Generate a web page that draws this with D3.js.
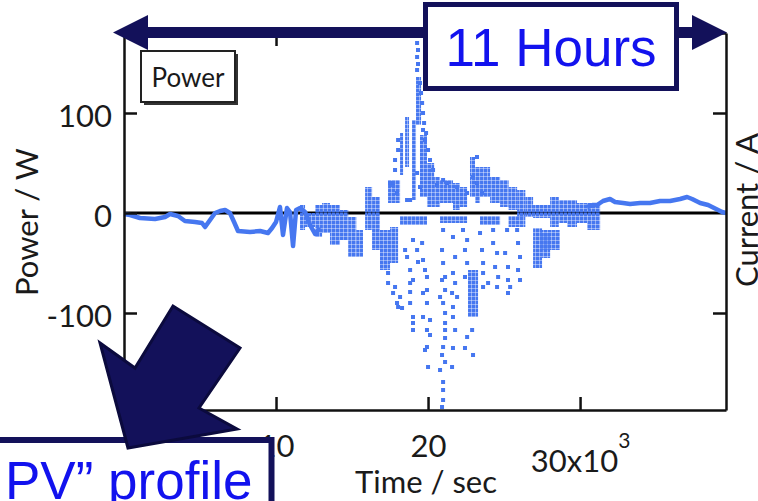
<!DOCTYPE html>
<html lang="en">

<head>
    <meta charset="UTF-8">
    <title>Power profile</title>

    <style>
        body {
            margin: 0;
            background: #fff;
        }

        .axis text {
            font: 31px Lato, sans-serif;
            fill: #1a1a1a;
        }

        .axis path,
        .axis line {
            fill: none;
            stroke: #111;
            stroke-width: 2.5;
        }

        .label {
            font: 31px Lato, sans-serif;
            fill: #1a1a1a;
        }

        .note {
            font: 53px "Liberation Sans", Arial, sans-serif;
            fill: #1212ee;
        }
    </style>
</head>

<body>
    <div id="graph"></div>

    <script src="https://cdnjs.cloudflare.com/ajax/libs/d3/7.8.5/d3.min.js"></script>

    <script>
        // tick values / labels
        var xTicks = [10000, 20000, 30000];
        var xTickLabels = ["10", "20", "30x10"];
        var xExponent = "3";
        var yTicks = [100, 0, -100];
        var yRightTicks = [100, -100];

        // quiet stretches, [time s, power W]
        var traceMorning = [
            [0, -1], [400, -2], [1050, -5], [2040, -6], [2700, -4], [3030, -1], [3550, -3],
            [4010, -8], [4670, -9], [5130, -10], [5330, -14], [5660, -7], [5990, 0], [6320, 2],
            [6650, 3], [6970, 0], [7240, -9], [7500, -18], [8290, -19], [8950, -18], [9470, -20],
            [9740, -15], [10000, -9], [10260, 6], [10460, -22], [10720, 5], [10920, 1], [11120, -33],
            [11320, 3], [11580, 5], [11910, 1], [12240, -12], [12570, -21], [12900, -15]
        ];
        var traceEvening = [
            [30460, 6], [30860, 8], [31120, 8], [31510, 12], [31970, 14], [32300, 11], [32830, 10],
            [33290, 9], [33950, 10], [34600, 10], [35260, 12], [35920, 12], [36580, 14], [37040, 16],
            [37370, 14], [37900, 10], [38420, 8], [38950, 4], [39340, 1], [39600, 0]
        ];

        // dense clouds of samples, [t start, t end, P high, P low]
        var clouds = [
            [11580, 11910, 8, -17], [11910, 12570, 0, -14], [12570, 13030, 8, -24],
            [13030, 13550, 10, -20], [13550, 14210, 8, -32], [14210, 14750, 3, -27],
            [14750, 15280, -4, -44], [15280, 15720, -17, -44], [15860, 16320, 26, -17],
            [16320, 16840, 16, -37], [16840, 17500, -17, -57], [17500, 18030, -14, -50],
            [17370, 18160, 33, 10], [18160, 18360, 80, 38], [18490, 18750, 96, 46],
            [18950, 19210, 93, 13], [19210, 19540, 136, 88], [19470, 19930, 78, 16],
            [19930, 20400, 50, 6], [20400, 20790, 36, 6], [20790, 21640, 33, 10],
            [21640, 22100, 30, 3], [22100, 22570, 26, 6], [22760, 23090, 56, 16],
            [23090, 23420, 46, 10], [23420, 24080, 46, 16], [24080, 24740, 36, 10],
            [24740, 25300, 33, 6], [25300, 25860, 26, 3], [25860, 26400, 23, -4],
            [26400, 26910, 16, -4], [26910, 27500, -15, -55], [27500, 28030, -20, -45],
            [26910, 28030, 8, -5], [28030, 28600, 16, -14], [28600, 29150, 13, -10],
            [29150, 29800, 13, -14], [29800, 30460, 10, -10], [30460, 31320, 10, -17],
            [22630, 23290, -57, -104], [27370, 28680, -17, -37],
            [18160, 19930, -3, -12], [20790, 22570, -3, -10], [23420, 24740, -3, -12],
            [25300, 26400, -3, -14]
        ];

        // scattered single samples, [time s, power W]
        var samples = [
            [19280, 170], [19340, 163], [19280, 156], [19340, 149], [19280, 143],
            [19470, 130], [19540, 120], [19610, 110], [19670, 100], [19740, 90], [19870, 80],
            [19670, 83], [19800, 73], [20000, 63], [20130, 53], [20330, 43], [20590, 28],
            [17830, 53], [17830, 43], [17700, 28], [17500, 30], [17960, 20],
            [18620, 13], [18820, 13], [19280, 40], [19470, 26],
            [21250, 30], [21910, 26], [22570, 20], [22960, 36], [23220, 30], [23550, 20], [20990, 33], [23220, 56],
            [18030, 73], [18030, 63],
            [17370, -60], [17370, -70], [17700, -80], [17830, -74], [17960, -90], [18160, -84], [18290, -95], [18030, -94],
            [18820, -70], [18820, -79], [18820, -90], [18820, -57], [19010, -27], [19010, -67], [19280, -37], [18620, -44],
            [19010, -104], [19010, -110], [19010, -117],
            [19610, -30], [19670, -47], [19800, -57], [19930, -64], [19930, -77], [19670, -80], [19930, -90], [19670, -104],
            [20130, -107], [19930, -117], [20130, -122], [19930, -134], [19800, -137], [20000, -154],
            [20920, -37], [20990, -50], [20920, -67], [21120, -77], [20790, -84], [20990, -90], [21120, -100], [21120, -110],
            [21120, -117], [21120, -125], [20990, -134], [20920, -142], [21120, -149], [20790, -157], [20990, -169],
            [20990, -177], [20990, -187], [20920, -194], [20990, -17], [21120, -64],
            [21640, -24], [21780, -44], [21640, -60], [21780, -70], [21580, -80], [21640, -94], [21640, -104], [21780, -117],
            [21640, -135], [21580, -154], [21910, -84],
            [22300, -17], [22570, -27], [22430, -37], [22570, -50], [22430, -64], [22430, -135], [22570, -124], [22900, -117], [22960, -142],
            [23420, -20], [23550, -37], [23620, -50], [23620, -60], [23950, -70], [23620, -74],
            [24280, -17], [24280, -30], [24540, -40], [24410, -54], [24610, -64], [24540, -74],
            [25200, -17], [25070, -40], [25260, -54], [25260, -67], [25400, -74], [25260, -80],
            [25860, -17], [25920, -30], [26050, -44], [25920, -57], [26050, -67],
            [18490, -37], [19340, -49]
        ];

        var blue = "#4677f0";
        var navy = "#13115a";

        var margin = { top: 33, right: 32, bottom: 91, left: 124 },
            width = 758 - margin.left - margin.right,
            height = 501 - margin.top - margin.bottom;

        var root = d3.select("#graph").append("svg")
            .attr("width", 758)
            .attr("height", 501);

        // speckle texture so the dense clouds read as packed dots
        var pat = root.append("defs").append("pattern")
            .attr("id", "speckle")
            .attr("patternUnits", "userSpaceOnUse")
            .attr("width", 4)
            .attr("height", 4);
        pat.append("rect")
            .attr("width", 3.6).attr("height", 3.6)
            .attr("fill", blue);

        var svg = root.append("g")
            .attr("transform", "translate(" + margin.left + "," + margin.top + ")");

        var x = d3.scaleLinear().domain([0, 39600]).range([0, width]);
        var y = d3.scaleLinear().domain([-197, 180]).range([height, 0]);

        // zero line
        svg.append("line")
            .attr("x1", 0).attr("x2", width)
            .attr("y1", y(0)).attr("y2", y(0))
            .attr("stroke", "#000")
            .attr("stroke-width", 3);

        var line = d3.line().x(d => x(d[0])).y(d => y(d[1]));

        [traceMorning, traceEvening].forEach(function (tr) {
            svg.append("path")
                .datum(tr)
                .attr("fill", "none")
                .attr("stroke", blue)
                .attr("stroke-width", 4.5)
                .attr("stroke-linejoin", "round")
                .attr("d", line);
        });

        svg.selectAll("rect.cloud")
            .data(clouds)
            .enter().append("rect")
            .attr("class", "cloud")
            .attr("x", d => x(d[0]))
            .attr("width", d => x(d[1]) - x(d[0]))
            .attr("y", d => y(d[2]))
            .attr("height", d => y(d[3]) - y(d[2]))
            .attr("fill", "url(#speckle)");

        svg.selectAll("rect.dot")
            .data(samples)
            .enter().append("rect")
            .attr("class", "dot")
            .attr("x", d => x(d[0]) - 2)
            .attr("y", d => y(d[1]) - 2)
            .attr("width", 4)
            .attr("height", 4)
            .attr("fill", blue);

        // frame with inward ticks
        svg.append("g")
            .attr("class", "x axis")
            .attr("transform", "translate(0," + height + ")")
            .call(d3.axisBottom(x).tickValues(xTicks).tickSize(-13).tickSizeOuter(0).tickPadding(25)
                .tickFormat((d, i) => xTickLabels[i]));

        var last = svg.selectAll(".x.axis .tick").filter(d => d === 30000).select("text");
        last.attr("y", 40);
        last.append("tspan")
            .attr("dy", "-24")
            .style("font-size", "21px")
            .text(xExponent);

        svg.append("g")
            .attr("class", "x axis top")
            .call(d3.axisTop(x).tickValues(xTicks).tickSize(-13).tickSizeOuter(0).tickFormat(""));

        svg.append("g")
            .attr("class", "y axis")
            .call(d3.axisLeft(y).tickValues(yTicks).tickSize(-13).tickSizeOuter(0).tickPadding(12)
                .tickFormat(d => String(d)))
            .selectAll("text")
            .attr("dy", "0.42em");

        svg.append("g")
            .attr("class", "y axis")
            .attr("transform", "translate(" + width + ",0)")
            .call(d3.axisRight(y).tickValues(yRightTicks).tickSize(-13).tickSizeOuter(0).tickFormat(""));

        // axis titles
        root.append("text")
            .attr("class", "label")
            .attr("transform", "translate(38,222) rotate(-90)")
            .style("text-anchor", "middle")
            .text("Power / W");

        root.append("text")
            .attr("class", "label")
            .attr("transform", "translate(758,210) rotate(-90)")
            .style("text-anchor", "middle")
            .text("Current / A");

        root.append("text")
            .attr("class", "label")
            .attr("x", 426)
            .attr("y", 493)
            .style("text-anchor", "middle")
            .text("Time / sec");

        // legend
        root.append("rect")
            .attr("x", 144).attr("y", 54).attr("width", 94).attr("height", 51)
            .attr("fill", "#333");
        root.append("rect")
            .attr("x", 141).attr("y", 51).attr("width", 94).attr("height", 51)
            .attr("fill", "#fff").attr("stroke", "#222").attr("stroke-width", 2);
        root.append("text")
            .attr("x", 188).attr("y", 87)
            .style("text-anchor", "middle")
            .style("font", "26px Lato, sans-serif")
            .attr("fill", "#1a1a1a")
            .text("Power");

        // "11 Hours" span arrow
        root.append("polygon")
            .attr("points", "113,32.5 148,15 148,27 692,27 692,15 727,32.5 692,50 692,38 148,38 148,50")
            .attr("fill", navy);
        root.append("rect")
            .attr("x", 425.5).attr("y", 4.5).attr("width", 251).attr("height", 84)
            .attr("fill", "#fff").attr("stroke", navy).attr("stroke-width", 5);
        root.append("text")
            .attr("class", "note")
            .attr("x", 551).attr("y", 66)
            .style("text-anchor", "middle")
            .text("11 Hours");

        // profile callout
        root.append("rect")
            .attr("x", -10).attr("y", 440).attr("width", 281.5).attr("height", 80)
            .attr("fill", "#fff").attr("stroke", navy).attr("stroke-width", 6);
        root.append("text")
            .attr("class", "note")
            .attr("x", 5).attr("y", 499)
            .text("PV\u201d profile");
        root.append("polygon")
            .attr("points", "128,448 100,343 135,368 173,306 240,348 199,408 237,429")
            .attr("fill", navy)
            .attr("stroke", "#0b0a3d")
            .attr("stroke-width", 3)
            .attr("stroke-linejoin", "miter");
    </script>
</body>

</html>
